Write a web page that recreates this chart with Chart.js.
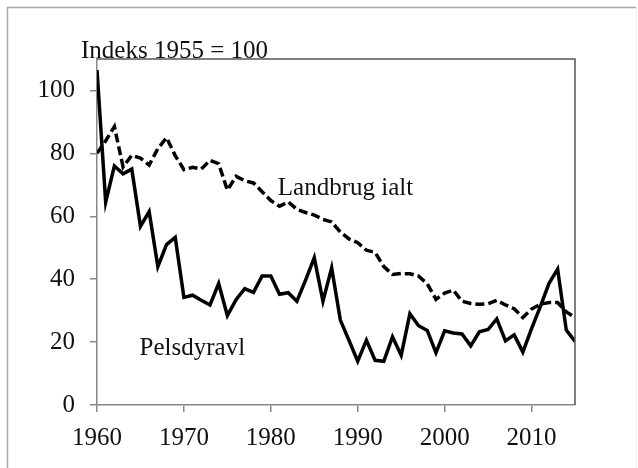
<!DOCTYPE html>
<html>
<head>
<meta charset="utf-8">
<script src="https://cdn.jsdelivr.net/npm/chart.js@4/dist/chart.umd.min.js"></script>
<style>
  html, body { margin: 0; padding: 0; background: #fff; }
  #wrap { width: 638px; height: 468px; }
</style>
</head>
<body>
<div id="wrap"><canvas id="index-chart" width="638" height="468"></canvas></div>
<script>
// Data
const years = [1960, 1961, 1962, 1963, 1964, 1965, 1966, 1967, 1968, 1969,
  1970, 1971, 1972, 1973, 1974, 1975, 1976, 1977, 1978, 1979,
  1980, 1981, 1982, 1983, 1984, 1985, 1986, 1987, 1988, 1989,
  1990, 1991, 1992, 1993, 1994, 1995, 1996, 1997, 1998, 1999,
  2000, 2001, 2002, 2003, 2004, 2005, 2006, 2007, 2008, 2009,
  2010, 2011, 2012, 2013, 2014, 2015];

const pelsdyravl = [106.5, 64.5, 76, 73.5, 75, 56.8, 61.5, 44, 51, 53.3,
  34.2, 34.9, 33.3, 31.8, 38.6, 28.4, 33.5, 37, 35.8, 41,
  41, 35.2, 35.7, 33, 39.7, 46.8, 33, 43.6, 27, 20.5,
  13.9, 20.6, 14.2, 13.9, 21.7, 15.8, 29, 25.2, 23.7, 16.6,
  23.6, 22.9, 22.6, 18.8, 23.3, 24, 27.4, 20.4, 22.3, 16.8,
  24.3, 31.2, 38.6, 43.2, 23.8, 20.2];

const landbrugIalt = [80, 84, 88.5, 75.7, 79.4, 78.5, 76.3, 81.5, 85, 79.3,
  74.8, 75.6, 75, 77.8, 76.7, 68.3, 72.7, 71.3, 70.6, 67.8,
  65, 63.2, 64.6, 62.2, 61.2, 60.4, 59, 58.2, 55, 52.8,
  51.6, 49.2, 48.5, 44, 41.5, 41.8, 41.7, 41, 38.5, 33.6,
  35.6, 36.5, 33, 32.3, 32, 32.2, 33.3, 31.8, 30.6, 27.8,
  30.5, 32, 32.6, 32.6, 29.6, 27.8];

const xTicks = [1960, 1970, 1980, 1990, 2000, 2010];
const yTicks = [0, 20, 40, 60, 80, 100];

const seriesNames = ['Pelsdyravl', 'Landbrug ialt'];
const titleText = 'Indeks 1955 = 100';

const serif = '"Liberation Serif", "Times New Roman", serif';

function toPoints(vals) {
  return years.map((y, i) => ({ x: y, y: vals[i] }));
}

// frame, outer border and texts
const decorations = {
  id: 'decorations',
  beforeDraw(chart) {
    const c = chart.ctx;
    c.save();
    c.fillStyle = '#fff';
    c.fillRect(0, 0, chart.width, chart.height);
    // outer border of the picture
    c.strokeStyle = '#a8a8a8';
    c.lineWidth = 1.5;
    c.beginPath();
    c.moveTo(7.5, chart.height);
    c.lineTo(7.5, 7.5);
    c.lineTo(636, 7.5);
    c.stroke();
    c.strokeStyle = '#eeeeee';
    c.lineWidth = 1;
    c.beginPath();
    c.moveTo(636.5, 7.5);
    c.lineTo(636.5, chart.height);
    c.stroke();
    c.restore();
  },
  afterDatasetsDraw(chart) {
    const c = chart.ctx;
    const a = chart.chartArea;
    const xs = chart.scales.x, ys = chart.scales.y;
    c.save();
    // top and right of the plot frame
    c.strokeStyle = '#555';
    c.lineWidth = 1.5;
    c.beginPath();
    c.moveTo(a.left, a.top);
    c.lineTo(a.right, a.top);
    c.lineTo(a.right, a.bottom);
    c.stroke();

    c.fillStyle = '#111';
    c.font = '25px ' + serif;
    c.textAlign = 'left';
    c.textBaseline = 'alphabetic';
    c.fillText(titleText, 81, 58);

    c.textBaseline = 'middle';
    c.fillText(seriesNames[1], xs.getPixelForValue(1980.8), ys.getPixelForValue(68.9));
    c.fillText(seriesNames[0], xs.getPixelForValue(1964.9), ys.getPixelForValue(18.1));
    c.restore();
  }
};

const ctx = document.getElementById('index-chart');

new Chart(ctx, {
  type: 'line',
  data: {
    datasets: [{
      label: seriesNames[0],
      data: toPoints(pelsdyravl),
      borderColor: '#000',
      borderWidth: 3.5,
      pointRadius: 0,
      tension: 0,
      fill: false
    },
    {
      label: seriesNames[1],
      data: toPoints(landbrugIalt),
      borderColor: '#000',
      borderWidth: 3.5,
      borderDash: [9, 4],
      pointRadius: 0,
      tension: 0,
      fill: false
    }]
  },
  options: {
    responsive: false,
    animation: false,
    events: [],
    layout: {
      padding: { left: 0, top: 59, right: 63, bottom: 0 }
    },
    plugins: {
      legend: { display: false },
      tooltip: { enabled: false }
    },
    scales: {
      x: {
        type: 'linear',
        min: 1960,
        max: 2015,
        afterBuildTicks(scale) {
          scale.ticks = xTicks.map(v => ({ value: v }));
        },
        afterFit(scale) {
          scale.height = 63;
        },
        ticks: {
          color: '#111',
          font: { family: serif, size: 25 },
          padding: 11,
          maxRotation: 0,
          autoSkip: false,
          callback: (v) => String(v)
        },
        grid: {
          drawOnChartArea: false,
          drawTicks: true,
          tickLength: 7,
          color: '#888',
          lineWidth: 1.5
        },
        border: { color: '#888', width: 1.5 }
      },
      y: {
        min: 0,
        max: 110,
        afterBuildTicks(scale) {
          scale.ticks = yTicks.map(v => ({ value: v }));
        },
        afterFit(scale) {
          scale.width = 97;
        },
        ticks: {
          color: '#111',
          font: { family: serif, size: 25 },
          padding: 15,
          autoSkip: false,
          callback: (v) => String(v)
        },
        grid: {
          drawOnChartArea: false,
          drawTicks: true,
          tickLength: 7,
          color: '#888',
          lineWidth: 1.5
        },
        border: { color: '#888', width: 1.5 }
      }
    }
  },
  plugins: [decorations]
});
</script>
</body>
</html>
